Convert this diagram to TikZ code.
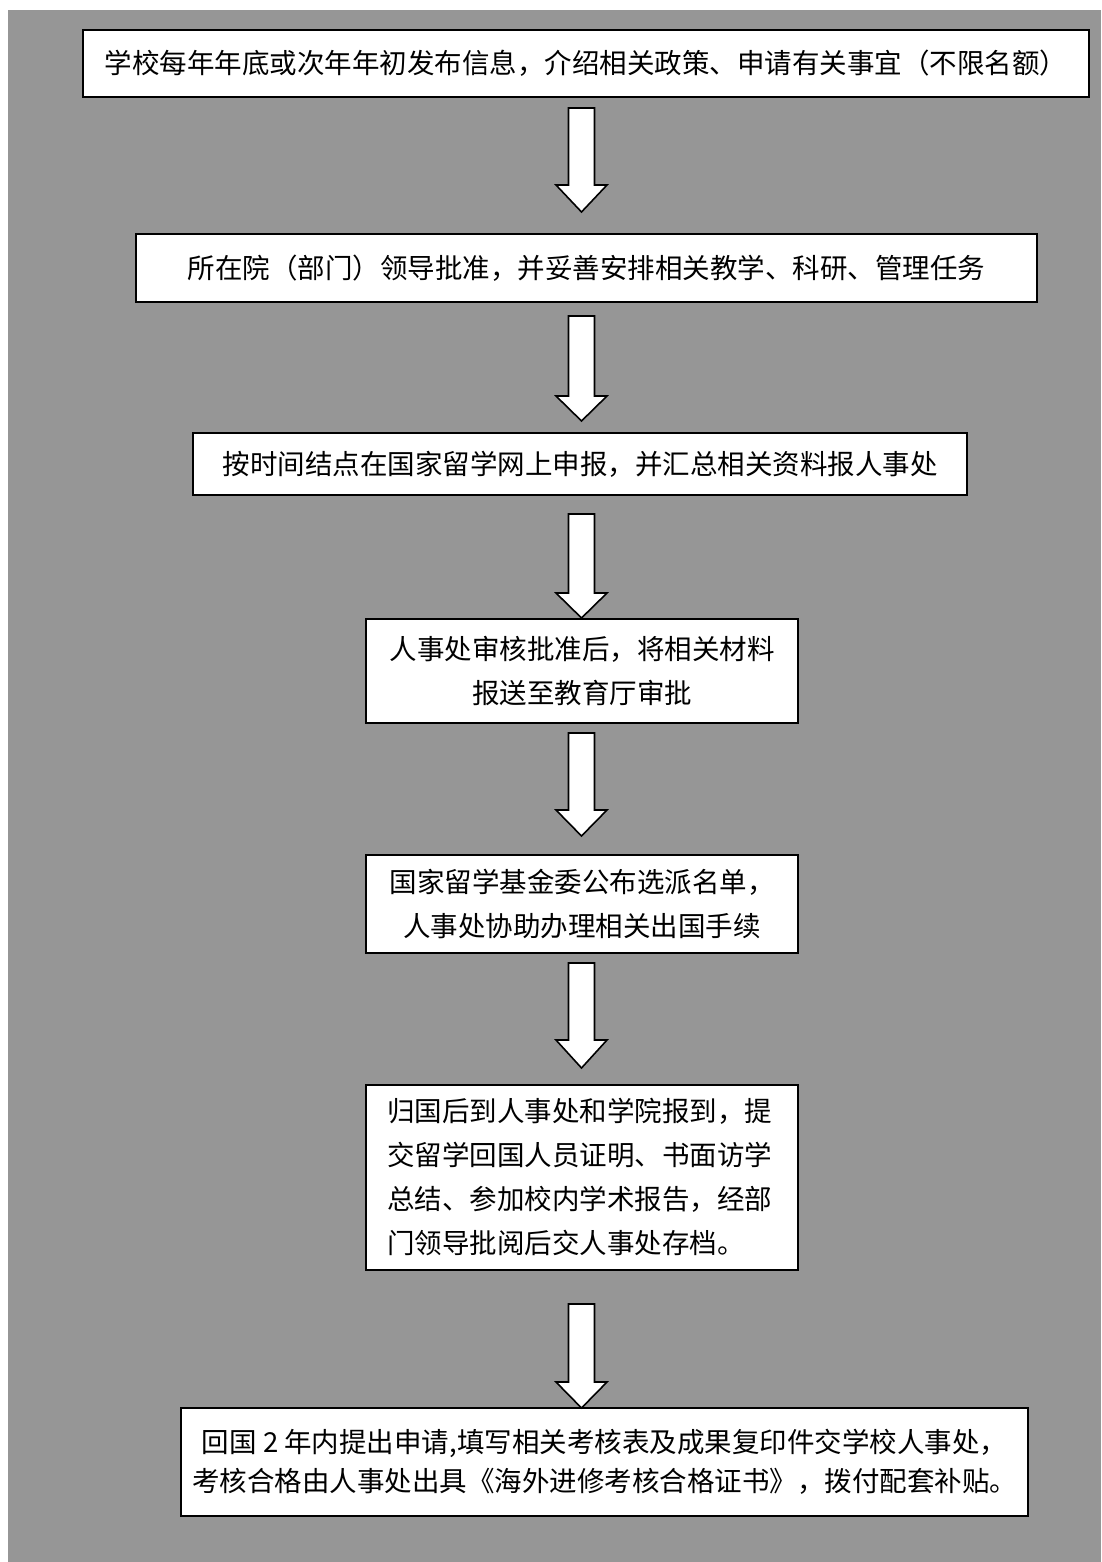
\documentclass[tikz,border=0pt]{standalone}
\usepackage{fontspec}
\newfontfamily\cjk{Noto Sans CJK SC}
\definecolor{bggray}{RGB}{150,150,150}
\tikzset{
  stepbox/.style={draw=black, fill=white, line width=2pt, inner sep=0pt,
    font=\cjk\fontsize{27.5}{44}\selectfont, text=black, align=center},
  blockarr/.style={draw=black, fill=white, line width=1.6pt, line join=miter}
}
\newcommand{\bkarrow}[4]{% x, ytop, yhead, ytip
  \draw[blockarr] (#1-13,#2) -- (#1+13,#2) -- (#1+13,#3) -- (#1+25.5,#3) -- (#1,#4)
    -- (#1-25.5,#3) -- (#1-13,#3) -- cycle;}
\begin{document}
\begin{tikzpicture}[x=1pt,y=-1pt]
\useasboundingbox (0,0) rectangle (1101,1562);
\fill[white] (0,0) rectangle (1101,1562);
\fill[bggray] (8,10) rectangle (1101,1562);

\node[stepbox, minimum width=1006, minimum height=67] (b1) at (586,63.5)
  {学校每年年底或次年年初发布信息，介绍相关政策、申请有关事宜（不限名额）};
\node[stepbox, minimum width=901, minimum height=68] (b2) at (586.5,268)
  {所在院（部门）领导批准，并妥善安排相关教学、科研、管理任务};
\node[stepbox, minimum width=774, minimum height=62] (b3) at (580,464)
  {按时间结点在国家留学网上申报，并汇总相关资料报人事处};
\node[stepbox, minimum width=432, minimum height=104] (b4) at (582,671)
  {人事处审核批准后，将相关材料\\报送至教育厅审批};
\node[stepbox, minimum width=432, minimum height=98] (b5) at (582,904)
  {国家留学基金委公布选派名单，\\人事处协助办理相关出国手续};
\node[stepbox, minimum width=432, minimum height=185, text width=390, align=left] (b6) at (582,1177)
  {归国后到人事处和学院报到，提\\交留学回国人员证明、书面访学\\总结、参加校内学术报告，经部\\门领导批阅后交人事处存档。};
\node[stepbox, minimum width=847, minimum height=108, font=\cjk\fontsize{27.5}{39}\selectfont] (b7) at (604.5,1462)
  {回国 2 年内提出申请,填写相关考核表及成果复印件交学校人事处，\\考核合格由人事处出具《海外进修考核合格证书》，拨付配套补贴。};

\bkarrow{581.5}{108}{185}{212}
\bkarrow{581.5}{316}{396}{421}
\bkarrow{581.5}{514}{593}{618}
\bkarrow{581.5}{733}{810}{836}
\bkarrow{581.5}{963}{1040}{1068}
\bkarrow{581.5}{1304}{1382}{1408}
\end{tikzpicture}
\end{document}
